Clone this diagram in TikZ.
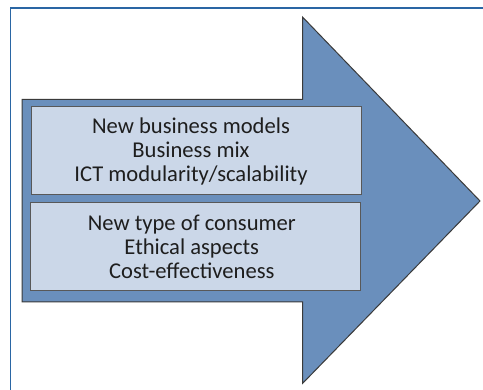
\documentclass[tikz,border=0pt]{standalone}
\usepackage{fontspec}
\setmainfont{Carlito}
\definecolor{framecol}{HTML}{2A66A4}
\definecolor{arrowfill}{HTML}{6A8FBC}
\definecolor{boxfill}{HTML}{CBD7E8}
\definecolor{edgecol}{HTML}{3A3A3A}
\definecolor{textcol}{HTML}{1E1E1E}
\tikzset{
  frameline/.style={draw=framecol, line width=1.5pt},
  bigarrow/.style={draw=edgecol, fill=arrowfill, line width=1pt, line join=miter},
  textbox/.style={draw=edgecol!85, fill=boxfill, line width=1pt, minimum width=330pt, minimum height=88pt, inner sep=0pt},
  boxtext/.style={align=center, text=textcol, inner sep=0pt, font=\fontsize{22.6pt}{24pt}\selectfont}
}
\begin{document}
\begin{tikzpicture}[x=1pt,y=-1pt]
\useasboundingbox (0,0) rectangle (483,390);
\fill[white] (0,0) rectangle (483,390);
\draw[frameline] (10.5,391) -- (10.5,8) -- (484,8);
\draw[bigarrow] (22,99.5) -- (302.5,99.5) -- (302.5,17) -- (480,201) -- (302.5,383.5) -- (302.5,302) -- (22,302) -- cycle;
\node[textbox] (b1) at (196,151) {};
\node[textbox] (b2) at (195.8,247) {};
\node[boxtext] (t1) at ([xshift=-5pt]b1.center) {New business models\\Business mix\\ICT modularity/scalability};
\node[boxtext] (t2) at ([xshift=-4pt]b2.center) {New type of consumer\\Ethical aspects\\Cost-effectiveness};
\end{tikzpicture}
\end{document}
